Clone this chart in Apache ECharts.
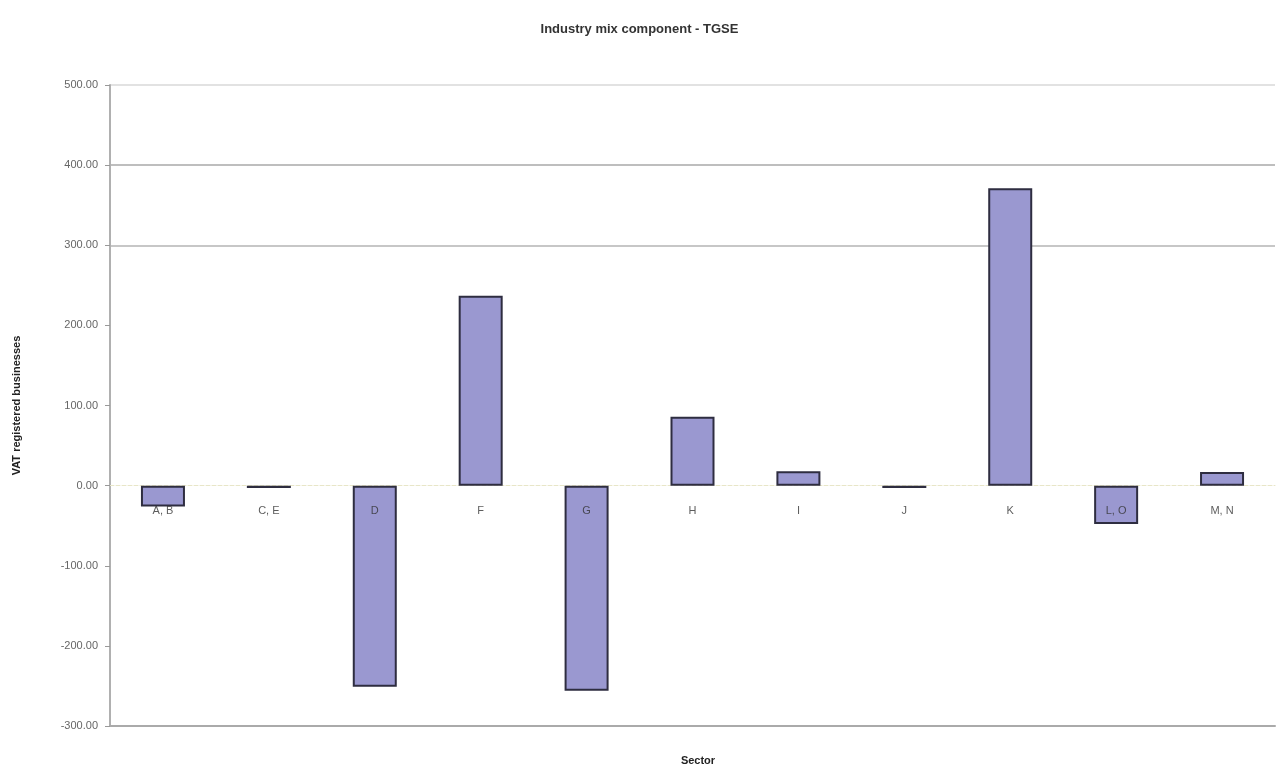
<!DOCTYPE html>
<html>
<head>
<meta charset="utf-8">
<script src="https://cdn.jsdelivr.net/npm/echarts@6/dist/echarts.min.js"></script>
<style>
  html, body { margin: 0; padding: 0; background: #fff; }
  #chart { width: 1279px; height: 765px; }
</style>
</head>
<body>
<div id="chart"></div>
<script>
// Sectors and their industry mix component values
const sectors = ['A, B', 'C, E', 'D', 'F', 'G', 'H', 'I', 'J', 'K', 'L, O', 'M, N'];
const mixValues = [-26, -3, -251, 237, -256, 86, 18, -3, 371, -48, 17];

// Value axis range
const yMin = -300;
const yMax = 500;
const yStep = 100;

const chart = echarts.init(document.getElementById('chart'));

chart.setOption({
  animation: false,
  backgroundColor: '#ffffff',
  title: [
    {
      text: 'Industry mix component - TGSE',
      left: 'center',
      top: 18,
      textStyle: { fontFamily: 'Liberation Sans', fontSize: 13, fontWeight: 'bold', color: '#333' }
    },
    {
      text: 'Sector',
      left: 693,
      textAlign: 'center',
      top: 750,
      textStyle: { fontFamily: 'Liberation Sans', fontSize: 11, fontWeight: 'bold', color: '#222' }
    }
  ],
  grid: { left: 110, right: 4, top: 85, bottom: 39, outerBoundsMode: 'none', containLabel: false },
  xAxis: [
    {
      // category axis crossing at zero
      type: 'category',
      data: sectors,
      axisLine: { onZero: true, lineStyle: { color: '#e8e6c8', type: 'dashed', width: 1 } },
      axisTick: { show: false },
      axisLabel: { show: false }
    },
    {
      // bottom frame line of the plot area
      type: 'category',
      data: sectors,
      position: 'bottom',
      axisLine: { onZero: false, lineStyle: { color: '#aaaaaa', width: 2 } },
      axisTick: { show: false },
      axisLabel: { show: false }
    }
  ],
  yAxis: {
    type: 'value',
    min: yMin,
    max: yMax,
    interval: yStep,
    name: 'VAT registered businesses',
    nameLocation: 'middle',
    nameGap: 88,
    nameTextStyle: { fontFamily: 'Liberation Sans', fontSize: 11, fontWeight: 'bold', color: '#222' },
    axisLine: { show: true, lineStyle: { color: '#b0b0b0', width: 2 } },
    axisTick: { show: true, length: 5, lineStyle: { color: '#999' } },
    axisLabel: {
      margin: 12,
      fontFamily: 'Liberation Sans',
      fontSize: 11,
      color: '#666',
      formatter: v => v.toFixed(2)
    },
    splitLine: {
      show: true,
      lineStyle: {
        color: ['rgba(0,0,0,0)', 'rgba(0,0,0,0)', 'rgba(0,0,0,0)', 'rgba(0,0,0,0)',
                'rgba(0,0,0,0)', 'rgba(0,0,0,0)', '#b4b4b4', '#a8a8a8', '#d8d8d8'],
        width: 1.5
      }
    }
  },
  series: [
    {
      type: 'bar',
      data: mixValues,
      barWidth: 44,
      itemStyle: { color: '#9a98d0', borderColor: '#2e2d40', borderWidth: 2 }
    },
    {
      // sector names sitting just under the zero line
      type: 'scatter',
      data: sectors.map(s => [s, 0]),
      symbolSize: 0,
      z: 10,
      silent: true,
      label: {
        show: true,
        position: 'bottom',
        distance: 20,
        formatter: p => p.value[0],
        fontFamily: 'Liberation Sans',
        fontSize: 11,
        color: '#333'
      }
    }
  ]
});
</script>
</body>
</html>
